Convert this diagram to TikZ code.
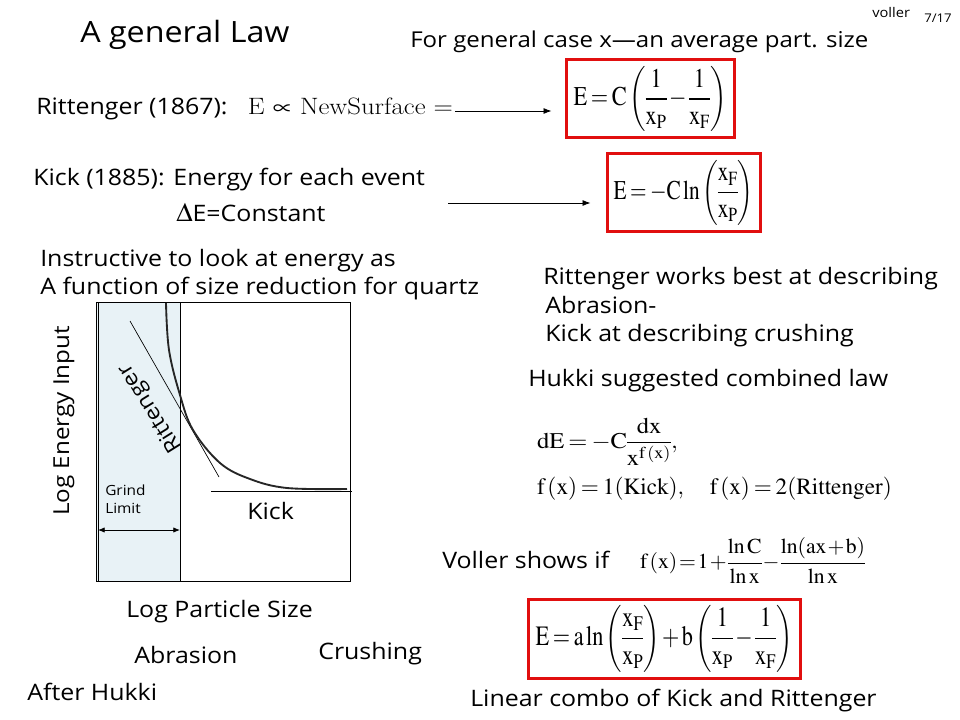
\documentclass[tikz,border=0pt]{standalone}
\usepackage{graphicx}
\usepackage{mathptmx}
\usepackage[no-math]{fontspec}
\newfontfamily\cs[FakeStretch=1.1]{Open Sans}
\usetikzlibrary{arrows.meta}
\definecolor{boxred}{RGB}{225,15,15}
\definecolor{strip}{RGB}{232,242,246}
\newcommand{\tightmath}{\thickmuskip=3mu\medmuskip=2mu\nulldelimiterspace=0pt}
\newcommand{\vtightmath}{\thickmuskip=1.5mu\medmuskip=1mu\nulldelimiterspace=0pt}
\newcommand{\tallstrut}{\rule[-0.95em]{0pt}{2.35em}}
\begin{document}
\begin{tikzpicture}[x=0.75pt,y=-0.75pt,
  txt/.style={font=\cs\fontsize{17}{20}\selectfont, inner sep=0pt, anchor=base west},
  smalltxt/.style={font=\cs\fontsize{10.5}{12}\selectfont, inner sep=0pt, anchor=base west},
  titletxt/.style={font=\cs\fontsize{22}{26}\selectfont, inner sep=0pt, anchor=base west},
  eqn/.style={font=\fontsize{17}{20}\selectfont, inner sep=0pt},
  redbox/.style={draw=boxred, line width=2.25pt, inner sep=0pt, font=\fontsize{17}{20}\selectfont},
  arr/.style={-{Latex[length=6pt,width=4.5pt]}, line width=0.6pt},
  dblarr/.style={{Latex[length=5pt,width=4pt]}-{Latex[length=5pt,width=4pt]}, line width=0.6pt}]
\useasboundingbox (0,0) rectangle (960,720);
\fill[white] (0,0) rectangle (960,720);

% header
\node[titletxt] (title) at (80,43) {A general Law};
\node[txt, font=\cs\fontsize{16.4}{20}\selectfont] (general) at (410,48) {For general case x—an average part. size};
\node[font=\cs\fontsize{10}{12}\selectfont, inner sep=0pt, anchor=base west] (voller) at (872,18) {voller};
\node[font=\cs\fontsize{9}{11}\selectfont, inner sep=0pt, anchor=base west] (page) at (924,23) {7/17};

% Rittenger
\node[txt] (ritt) at (36,115) {Rittenger (1867):};
\node[inner sep=0pt, font=\fontfamily{lmr}\fontsize{17}{20}\selectfont] (eqnew) at (350.5,106.5)
  {\resizebox*{153.75pt}{12.75pt}{E $\propto$ NewSurface =}};
\node[redbox, minimum width=126pt, minimum height=58.5pt] (box1) at (650,99)
  {\resizebox*{114.75pt}{48.75pt}{\tightmath$\displaystyle \mathrm{E}=\mathrm{C}\left(\tallstrut\frac{1}{\mathrm{x}_\mathrm{P}}-\frac{1}{\mathrm{x}_\mathrm{F}}\right)$}};
\coordinate (a1s) at (455,111);
\draw[arr, shorten >=9.75pt] (a1s) -- (box1.west |- a1s);

% Kick
\node[txt] (kick) at (33,186) {Kick (1885): Energy for each event};
\node[txt] (dconst) at (176,222) {{\fontsize{20}{20}\selectfont$\Delta$}E=Constant};
\node[redbox, minimum width=114.75pt, minimum height=58.5pt] (box2) at (683.5,192.5)
  {\resizebox*{105pt}{48.75pt}{\tightmath$\displaystyle \mathrm{E}=-\mathrm{C}\ln\left(\tallstrut\frac{\mathrm{x}_\mathrm{F}}{\mathrm{x}_\mathrm{P}}\right)$}};
\coordinate (a2s) at (448,203);
\draw[arr, shorten >=11.25pt] (a2s) -- (box2.west |- a2s);

\node[txt] (instr1) at (40,267) {Instructive to look at energy as};
\node[txt] (instr2) at (40,295) {A function of size reduction for quartz};

\node[txt] (rw1) at (543,285) {Rittenger works best at describing};
\node[txt] (rw2) at (545,313) {Abrasion-};
\node[txt] (rw3) at (545,341) {Kick at describing crushing};

\node[txt] (hukki) at (528,386) {Hukki suggested combined law};
\node[eqn] (eqdE) at (607.5,441.5)
  {\resizebox*{105.75pt}{35.25pt}{\tightmath$\displaystyle \mathrm{dE}=-\mathrm{C}\frac{\mathrm{dx}}{\mathrm{x}^{\mathrm{f\,(x)}}},$}};
\node[eqn] (eqf) at (714.5,489)
  {\resizebox{266pt}{!}{\tightmath$\mathrm{f}\,(\mathrm{x})=1(\mathrm{Kick}),\quad \mathrm{f}\,(\mathrm{x})=2(\mathrm{Rittenger})$}};

\node[txt] (vshows) at (442,568) {Voller shows if};
\node[eqn] (eqv) at (752.5,560.5)
  {\resizebox*{168.75pt}{33.75pt}{\vtightmath$\displaystyle \mathrm{f}\,(\mathrm{x})=1+\frac{\ln\mathrm{C}}{\ln\mathrm{x}}-\frac{\ln(\mathrm{ax}+\mathrm{b})}{\ln\mathrm{x}}$}};

\node[redbox, minimum width=204pt, minimum height=59.25pt] (box3) at (664,638.5)
  {\resizebox*{192.75pt}{50.25pt}{\tightmath$\displaystyle \mathrm{E}=\mathrm{a}\ln\left(\tallstrut\frac{\mathrm{x}_\mathrm{F}}{\mathrm{x}_\mathrm{P}}\right)+\mathrm{b}\left(\tallstrut\frac{1}{\mathrm{x}_\mathrm{P}}-\frac{1}{\mathrm{x}_\mathrm{F}}\right)$}};
\node[txt] (linear) at (470,706) {Linear combo of Kick and Rittenger};

% graph
\fill[strip] (96,303) rectangle (180,581);
\draw[line width=0.75pt] (96,303) rectangle (350,581);
\draw[line width=0.75pt] (98,303) -- (98,581);
\draw[line width=0.75pt] (180,303) -- (180,581);
\draw[line width=0.5pt] (130,321) -- (219,477);
\draw[line width=0.5pt] (211,491) -- (352,491);
\draw[line width=1.4pt, black!85] plot[smooth, tension=0.6] coordinates
  {(166,303) (169,350) (180,395) (193,430) (220,463) (250,479) (287,488) (347,489)};
\node[font=\cs\fontsize{16}{19}\selectfont, inner sep=0pt, rotate=122] (rittlab) at (151,408) {Rittenger};
\node[font=\cs\fontsize{16.5}{19}\selectfont, inner sep=0pt, rotate=90] (ylab) at (64,421) {Log Energy Input};
\node[smalltxt] (grind) at (105,495) {Grind};
\node[smalltxt] (limit) at (105,513) {Limit};
\coordinate (gl) at (98,530);
\coordinate (gr) at (180,530);
\draw[dblarr] (gl) -- (gr);
\node[txt] (kicklab) at (247,519) {Kick};
\node[txt] (xlab) at (126,617) {Log Particle Size};
\node[txt] (abr) at (134,663) {Abrasion};
\node[txt] (crush) at (318,659) {Crushing};
\node[txt] (after) at (27,700) {After Hukki};
\end{tikzpicture}
\end{document}
